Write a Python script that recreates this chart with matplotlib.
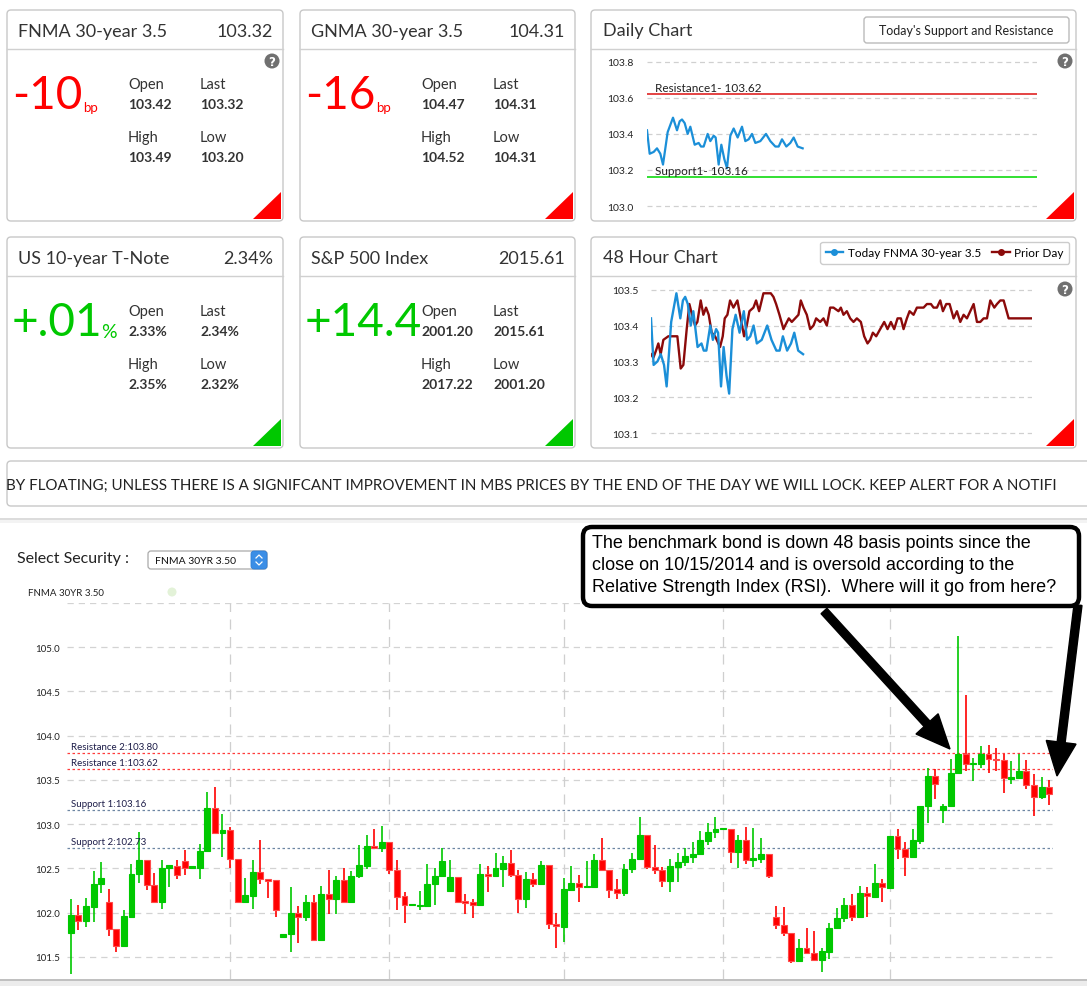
import numpy as np
import matplotlib
matplotlib.use("Agg")
import matplotlib.pyplot as plt
from matplotlib.patches import FancyBboxPatch, Polygon, Circle, Rectangle, FancyArrow
from matplotlib.lines import Line2D

plt.rcParams['font.family'] = ['Lato', 'DejaVu Sans']

W, H = 1087, 987
RED = '#ff0000'
GREEN = '#00c800'
BLUE = '#1b8fd8'
DARKRED = '#8b0a0a'
TXT = '#333333'

# quote tiles
tile_titles = ["FNMA 30-year 3.5", "GNMA 30-year 3.5", "US 10-year T-Note", "S&P 500 Index"]
tile_prices = ["103.32", "104.31", "2.34%", "2015.61"]
tile_change = ["-10", "-16", "+.01", "+14.4"]
tile_units = ["bp", "bp", "%", ""]
tile_open = ["103.42", "104.47", "2.33%", "2001.20"]
tile_last = ["103.32", "104.31", "2.34%", "2015.61"]
tile_high = ["103.49", "104.52", "2.35%", "2017.22"]
tile_low = ["103.20", "104.31", "2.32%", "2001.20"]

# intraday FNMA 30yr 3.5 (today), time steps
today_t = [0, 8, 20, 30, 40, 48, 62, 78, 90, 98,
           105, 113, 122, 130, 143, 155, 162, 170, 182, 190,
           200, 206, 215, 223, 232, 240, 250, 260, 272, 285,
           295, 305, 315, 325, 340, 357, 370, 385, 395, 405,
           418, 430, 440, 452, 467]
today_px = [103.42, 103.29, 103.30, 103.32, 103.29, 103.23, 103.41, 103.49, 103.42, 103.47,
            103.48, 103.46, 103.40, 103.44, 103.34, 103.35, 103.33, 103.33, 103.40, 103.36,
            103.39, 103.38, 103.23, 103.34, 103.26, 103.21, 103.39, 103.43, 103.38, 103.44,
            103.36, 103.37, 103.40, 103.35, 103.36, 103.40, 103.36, 103.33, 103.33, 103.37,
            103.33, 103.35, 103.38, 103.33, 103.32]
DAILY_SPAN = 1170

# prior day, time steps
prior_t = [0, 7, 15, 22, 29, 37, 52, 65, 79, 89,
           97, 107, 115, 123, 132, 139, 149, 157, 165, 173,
           182, 192, 207, 215, 221, 229, 237, 247, 259, 269,
           279, 287, 295, 307, 315, 324, 337, 347, 359, 367,
           375, 385, 397, 402, 413, 422, 432, 442, 449, 457,
           467, 477, 487, 495, 507, 517, 527, 537, 547, 562,
           569, 577, 587, 597, 607, 617, 629, 639, 649, 657,
           665, 675, 687, 699, 709, 719, 729, 739, 749, 757,
           767, 775, 787, 797, 807, 817, 827, 839, 847, 857,
           867, 875, 885, 895, 907, 917, 927, 937, 947, 957,
           967, 977, 987, 997, 1007, 1017, 1029, 1037, 1047, 1057,
           1072, 1082, 1142]
prior_px = [103.32, 103.31, 103.33, 103.35, 103.32, 103.36, 103.37, 103.37, 103.37, 103.28,
            103.29, 103.39, 103.46, 103.43, 103.40, 103.41, 103.47, 103.43, 103.45, 103.43,
            103.38, 103.37, 103.34, 103.37, 103.42, 103.43, 103.47, 103.45, 103.47, 103.42,
            103.37, 103.40, 103.44, 103.45, 103.47, 103.44, 103.49, 103.49, 103.49, 103.48,
            103.46, 103.43, 103.39, 103.40, 103.42, 103.41, 103.42, 103.43, 103.47, 103.45,
            103.43, 103.39, 103.40, 103.42, 103.41, 103.42, 103.40, 103.45, 103.45, 103.44,
            103.45, 103.43, 103.44, 103.42, 103.41, 103.42, 103.41, 103.37, 103.35, 103.36,
            103.38, 103.37, 103.39, 103.41, 103.39, 103.41, 103.39, 103.42, 103.42, 103.39,
            103.42, 103.44, 103.43, 103.45, 103.45, 103.45, 103.46, 103.46, 103.45, 103.45,
            103.47, 103.44, 103.46, 103.46, 103.42, 103.44, 103.41, 103.43, 103.42, 103.44,
            103.46, 103.41, 103.41, 103.42, 103.42, 103.47, 103.45, 103.46, 103.47, 103.47,
            103.42, 103.42, 103.42]
PRIOR_SPAN = 1142

daily_support = 103.16
daily_resist = 103.62

# daily candles FNMA 30YR 3.50
c_open = [101.77, 101.97, 101.90, 102.06, 102.32, 102.12, 101.81, 101.62, 101.95, 102.44,
          102.60, 102.31, 102.12, 102.50, 102.53, 102.58, 102.51, 102.51, 102.70, 103.18,
          102.90, 102.93, 102.61, 102.12, 102.19, 102.46, 102.38, 102.37, 101.72, 101.76,
          102.00, 101.95, 102.12, 101.69, 102.21, 102.15, 102.37, 102.12, 102.41, 102.53,
          102.75, 102.73, 102.80, 102.48, 102.19, 102.09, 102.07, 102.07, 102.32, 102.41,
          102.24, 102.40, 102.13, 102.12, 102.09, 102.44, 102.41, 102.49, 102.56, 102.43,
          102.15, 102.38, 102.32, 102.54, 101.87, 101.84, 102.26, 102.34, 102.29, 102.29,
          102.60, 102.48, 102.27, 102.22, 102.49, 102.61, 102.88, 102.52, 102.48, 102.36,
          102.52, 102.57, 102.63, 102.66, 102.81, 102.91, 102.94, 102.94, 102.68, 102.82,
          102.60, 102.61, 102.66, 101.95, 101.86, 101.77, 101.45, 101.60, 101.54, 101.46,
          101.56, 101.83, 101.94, 102.09, 101.95, 102.22, 102.18, 102.34, 102.28, 102.87,
          102.72, 102.63, 102.81, 103.21, 103.55, 103.16, 103.20, 103.58, 103.79, 103.68,
          103.68, 103.79, 103.74, 103.72, 103.51, 103.52, 103.60, 103.44, 103.31, 103.42]
c_high = [102.15, 102.09, 102.16, 102.47, 102.57, 102.27, 101.81, 102.03, 102.55, 102.91,
          102.60, 102.45, 102.59, 102.54, 102.60, 102.71, 102.52, 102.78, 103.36, 103.42,
          103.12, 102.97, 102.61, 102.39, 102.59, 102.82, 102.38, 102.37, 101.76, 102.29,
          102.07, 102.20, 102.20, 102.30, 102.48, 102.41, 102.50, 102.47, 102.76, 102.88,
          102.95, 102.98, 102.80, 102.60, 102.23, 102.10, 102.24, 102.55, 102.50, 102.73,
          102.59, 102.40, 102.21, 102.15, 102.55, 102.53, 102.67, 102.64, 102.71, 102.48,
          102.46, 102.45, 102.58, 102.54, 102.00, 102.39, 102.53, 102.43, 102.58, 102.66,
          102.84, 102.48, 102.38, 102.55, 102.67, 103.08, 102.88, 102.77, 102.52, 102.61,
          102.67, 102.73, 102.80, 102.92, 103.01, 103.08, 102.95, 102.94, 102.88, 102.97,
          102.96, 102.84, 102.66, 102.08, 102.06, 101.77, 101.70, 101.83, 101.79, 101.60,
          101.88, 102.05, 102.16, 102.21, 102.30, 102.29, 102.55, 102.38, 102.87, 102.95,
          102.80, 102.94, 103.21, 103.63, 103.62, 103.23, 103.74, 105.13, 104.46, 103.75,
          103.88, 103.89, 103.86, 103.79, 103.71, 103.79, 103.72, 103.57, 103.53, 103.50]
c_low = [101.31, 101.80, 101.84, 101.89, 102.22, 101.74, 101.55, 101.62, 101.95, 102.33,
         102.26, 102.12, 102.04, 102.29, 102.38, 102.43, 102.51, 102.38, 102.70, 102.90,
         102.63, 102.51, 102.12, 102.11, 102.04, 102.32, 102.17, 101.95, 101.71, 101.55,
         101.66, 101.90, 101.69, 101.69, 101.98, 101.99, 102.12, 102.12, 102.39, 102.49,
         102.73, 102.69, 102.44, 102.03, 101.88, 102.09, 102.03, 102.07, 102.09, 102.41,
         102.24, 102.11, 101.99, 101.94, 102.07, 102.23, 102.41, 102.29, 102.40, 102.00,
         102.05, 102.29, 102.32, 101.82, 101.60, 101.67, 102.26, 102.12, 102.29, 102.29,
         102.48, 102.17, 102.15, 102.19, 102.45, 102.61, 102.49, 102.44, 102.29, 102.23,
         102.35, 102.53, 102.56, 102.66, 102.76, 102.84, 102.94, 102.56, 102.50, 102.55,
         102.52, 102.56, 102.39, 101.81, 101.74, 101.43, 101.45, 101.54, 101.45, 101.33,
         101.48, 101.83, 101.89, 101.90, 101.95, 101.95, 102.18, 102.12, 102.27, 102.61,
         102.41, 102.63, 102.78, 103.01, 103.29, 103.01, 103.20, 103.58, 103.60, 103.49,
         103.64, 103.58, 103.60, 103.35, 103.45, 103.51, 103.40, 103.09, 103.29, 103.22]
c_close = [101.97, 101.91, 102.07, 102.32, 102.39, 101.81, 101.62, 101.96, 102.44, 102.60,
           102.31, 102.12, 102.50, 102.54, 102.43, 102.51, 102.52, 102.70, 103.18, 102.90,
           102.93, 102.61, 102.12, 102.20, 102.46, 102.38, 102.36, 102.03, 101.76, 102.00,
           101.95, 102.12, 101.69, 102.21, 102.15, 102.37, 102.12, 102.41, 102.54, 102.75,
           102.73, 102.80, 102.48, 102.18, 102.09, 102.10, 102.08, 102.32, 102.41, 102.58,
           102.40, 102.12, 102.11, 102.09, 102.44, 102.41, 102.50, 102.56, 102.43, 102.15,
           102.38, 102.32, 102.54, 101.87, 101.85, 102.27, 102.34, 102.29, 102.30, 102.60,
           102.48, 102.26, 102.22, 102.49, 102.61, 102.88, 102.52, 102.48, 102.36, 102.53,
           102.57, 102.64, 102.66, 102.82, 102.91, 102.94, 102.95, 102.69, 102.82, 102.60,
           102.62, 102.66, 102.41, 101.86, 101.77, 101.45, 101.60, 101.54, 101.46, 101.57,
           101.83, 101.94, 102.09, 101.95, 102.22, 102.19, 102.34, 102.29, 102.87, 102.72,
           102.63, 102.82, 103.21, 103.55, 103.45, 103.20, 103.58, 103.79, 103.68, 103.69,
           103.79, 103.74, 103.72, 103.52, 103.53, 103.60, 103.44, 103.31, 103.42, 103.34]
month_starts = [21, 42, 65, 86, 108]
level_names = ["Resistance 2", "Resistance 1", "Support 1", "Support 2"]
level_values = [103.80, 103.62, 103.16, 102.73]
level_colors = ['#ff3b3b', '#ff3b3b', '#6d86a3', '#6d86a3']

# scrolling banner, as far as it is visible
ticker = ("BY FLOATING; UNLESS THERE IS A SIGNIFCANT IMPROVEMENT IN MBS PRICES BY THE END "
          "OF THE DAY WE WILL LOCK. KEEP ALERT FOR A NOTIFI")
note_lines = ["The benchmark bond is down 48 basis points since the",
              "close on 10/15/2014 and is oversold according to the",
              "Relative Strength Index (RSI).  Where will it go from here?"]

fig = plt.figure(figsize=(W / 100, H / 100), dpi=100)
fig.patch.set_facecolor('white')
bg = fig.add_axes([0, 0, 1, 1], zorder=0)
bg.set_xlim(0, W)
bg.set_ylim(H, 0)
bg.axis('off')
renderer = fig.canvas.get_renderer()


def frac(x0, y0, x1, y1):
    return [x0 / W, 1 - y1 / H, (x1 - x0) / W, (y1 - y0) / H]


def panel(x0, y0, x1, y1, r=4):
    p = FancyBboxPatch((x0, y0), x1 - x0, y1 - y0, boxstyle="round,pad=0,rounding_size=%d" % r,
                       fc='white', ec='#c8c8c8', lw=1)
    bg.add_patch(p)
    return p


def corner(x1, y1, color):
    bg.add_patch(Polygon([(x1 - 2, y1 - 29), (x1 - 2, y1 - 2), (x1 - 30, y1 - 2)],
                         closed=True, fc=color, ec='none'))


def help_icon(x, y):
    bg.add_patch(Circle((x, y), 7.5, fc='#707070', ec='none'))
    bg.text(x, y + 0.5, '?', ha='center', va='center', color='white', fontsize=8.5,
            fontweight='bold', family=['DejaVu Sans'])


# --- quote tiles ---
tile_boxes = [(7, 11, 283, 222), (300, 11, 575, 222), (7, 238, 283, 449), (300, 238, 575, 449)]
for i, (x0, y0, x1, y1) in enumerate(tile_boxes):
    col = RED if tile_change[i].startswith('-') else GREEN
    panel(x0, y0, x1, y1)
    bg.plot([x0, x1], [y0 + 39, y0 + 39], color='#d0d0d0', lw=1)
    bg.text(x0 + 11, y0 + 21, tile_titles[i], fontsize=13, color=TXT, va='center')
    bg.text(x1 - 10, y0 + 21, tile_prices[i], fontsize=13, color=TXT, va='center', ha='right')
    big = bg.text(x0 + 5, y0 + 85, tile_change[i], fontsize=33, color=col, va='center')
    bb = big.get_window_extent(renderer=renderer)
    if tile_units[i] == 'bp':
        bg.text(bb.x1 + 1, y0 + 97, 'bp', fontsize=9.5, color=col, va='center')
    elif tile_units[i] == '%':
        bg.text(bb.x1 - 2, y0 + 94, '%', fontsize=14, color=col, va='center')
    for (lab, val, dx, dy) in [("Open", tile_open[i], 121, 74), ("Last", tile_last[i], 193, 74),
                               ("High", tile_high[i], 121, 127), ("Low", tile_low[i], 193, 127)]:
        bg.text(x0 + dx, y0 + dy, lab, fontsize=10.5, color=TXT, va='center')
        bg.text(x0 + dx, y0 + dy + 20, val, fontsize=10, color=TXT, va='center', fontweight='bold')
    corner(x1, y1, col)
help_icon(272, 62)

# --- daily chart panel ---
panel(591, 11, 1076, 222)
bg.plot([591, 1076], [50, 50], color='#d0d0d0', lw=1)
bg.text(603, 31, "Daily Chart", fontsize=13, color=TXT, va='center')
bg.add_patch(FancyBboxPatch((864, 18), 205, 26, boxstyle="round,pad=0,rounding_size=3",
                            fc='white', ec='#bbbbbb', lw=1))
bg.text(966.5, 31, "Today's Support and Resistance", fontsize=9, color='#222222',
        ha='center', va='center')
help_icon(1065, 62)
corner(1076, 222, RED)

axd = fig.add_axes(frac(647, 55, 1037, 215), zorder=1)
axd.set_facecolor('none')
axd.plot(today_t, today_px, color=BLUE, lw=1.6)
axd.axhline(daily_resist, color='#dd1111', lw=1.1)
axd.axhline(daily_support, color='#22dd22', lw=1.3)
axd.annotate("Resistance1- %.2f" % daily_resist, (0.02, daily_resist), xycoords=('axes fraction', 'data'),
             xytext=(0, 1), textcoords='offset points', fontsize=8.5, color='#222222', va='bottom')
axd.annotate("Support1- %.2f" % daily_support, (0.02, daily_support), xycoords=('axes fraction', 'data'),
             xytext=(0, 1), textcoords='offset points', fontsize=8.5, color='#222222', va='bottom')
axd.set_xlim(0, DAILY_SPAN)
axd.set_ylim(102.956, 103.843)
axd.set_yticks([103.0, 103.2, 103.4, 103.6, 103.8])
axd.set_yticklabels(["%.1f" % v for v in [103.0, 103.2, 103.4, 103.6, 103.8]])
axd.set_xticks([])
axd.tick_params(axis='y', length=0, labelsize=7.5, labelcolor='#222222', pad=10)
axd.grid(axis='y', color='#d0d0d0', lw=0.9, dashes=(4, 3))
axd.set_axisbelow(True)
for s in axd.spines.values():
    s.set_visible(False)

# --- 48 hour chart panel ---
panel(591, 238, 1076, 449)
bg.plot([591, 1076], [277, 277], color='#d0d0d0', lw=1)
bg.text(603, 258, "48 Hour Chart", fontsize=13, color=TXT, va='center')
help_icon(1065, 290)
corner(1076, 449, RED)

ax48 = fig.add_axes(frac(651, 283, 1032, 442), zorder=1)
ax48.set_facecolor('none')
ax48.plot(prior_t, prior_px, color=DARKRED, lw=1.7)
ax48.plot(np.array(today_t) * PRIOR_SPAN / DAILY_SPAN, today_px, color=BLUE, lw=1.7)
ax48.set_xlim(0, PRIOR_SPAN)
ax48.set_ylim(103.0777, 103.5215)
ax48.set_yticks([103.1, 103.2, 103.3, 103.4, 103.5])
ax48.set_yticklabels(["%.1f" % v for v in [103.1, 103.2, 103.3, 103.4, 103.5]])
ax48.set_xticks([])
ax48.tick_params(axis='y', length=0, labelsize=7.5, labelcolor='#222222', pad=9)
ax48.grid(axis='y', color='#d0d0d0', lw=0.9, dashes=(4, 3))
ax48.set_axisbelow(True)
for s in ax48.spines.values():
    s.set_visible(False)
handles = [Line2D([], [], color=BLUE, lw=1.7, marker='o', ms=4),
           Line2D([], [], color=DARKRED, lw=1.7, marker='o', ms=4)]
ax48.legend(handles, ["Today FNMA 30-year 3.5", "Prior Day"], loc='upper right',
            bbox_to_anchor=(1069 / W, 1 - 243 / H), bbox_transform=fig.transFigure, ncol=2,
            fontsize=8.5, frameon=True, fancybox=True, edgecolor='#c0c0c0', handlelength=1.5,
            handletextpad=0.4, columnspacing=0.9, borderpad=0.45, borderaxespad=0)

# --- ticker ---
tk = panel(7, 462, 1100, 507)
bg.text(6, 485.5, ticker, fontsize=10.9, color='#222222', va='center')

# separator
bg.plot([0, W], [520, 520], color='#d6d6d6', lw=1.2)
bg.add_patch(Rectangle((0, 521), W, 3, fc='#f3f3f3', ec='none'))

# --- candle chart header ---
bg.text(17, 559, "Select Security :", fontsize=11.5, color='#222222', va='center')
bg.add_patch(FancyBboxPatch((148, 552), 119, 18, boxstyle="round,pad=0,rounding_size=3",
                            fc='white', ec='#aaaaaa', lw=0.9))
bg.add_patch(FancyBboxPatch((251, 552), 16, 18, boxstyle="round,pad=0,rounding_size=3",
                            fc='#3b8ee6', ec='#2f7fd6', lw=0.6))
bg.plot([256, 259, 262], [559, 556, 559], color='white', lw=0.9)
bg.plot([256, 259, 262], [563, 566, 563], color='white', lw=0.9)
bg.text(155, 561, "FNMA 30YR 3.50", fontsize=7.5, color='#111111', va='center')
bg.text(28, 593, "FNMA 30YR 3.50", fontsize=7, color='#222222', va='center')
bg.add_patch(Circle((172, 593), 4.5, fc='#e3f2d8', ec='none'))
bg.add_patch(Rectangle((0, 980), W, 7, fc='#ececec', ec='none'))
bg.plot([0, W], [980.5, 980.5], color='#b8b8b8', lw=1.2)

# --- candlestick chart ---
axc = fig.add_axes(frac(67, 604, 1053, 980), zorder=1)
axc.set_facecolor('none')
idx = np.arange(len(c_open))
o = np.array(c_open)
c = np.array(c_close)
hi = np.array(c_high)
lo = np.array(c_low)
up = c >= o
cols = np.where(up, GREEN, RED)
edge = np.where(up, GREEN, '#ff4a4a')
axc.vlines(idx, lo, hi, colors=cols, lw=1.2, zorder=3)
body_h = np.maximum(np.abs(c - o), 0.012)
axc.bar(idx, body_h, bottom=np.minimum(o, c), width=0.78, color=cols, edgecolor=edge,
        lw=0.8, zorder=4)
for name, val, col in zip(level_names, level_values, level_colors):
    axc.axhline(val, color=col, lw=0.9, dashes=(2, 2), zorder=2)
    axc.annotate("%s:%.2f" % (name, val), (0.004, val), xycoords=('axes fraction', 'data'),
                 xytext=(0, 1.5), textcoords='offset points', fontsize=7, color='#1c1c48',
                 va='bottom', zorder=5)
for m in month_starts:
    axc.axvline(m, color='#cfcfcf', lw=0.9, dashes=(8, 6), zorder=1)
yt = np.arange(101.5, 105.01, 0.5)
axc.set_yticks(yt)
axc.set_yticklabels(["%.1f" % v for v in yt])
axc.axhline(105.5, color='#d3d3d3', lw=0.9, dashes=(5, 4), zorder=1)
axc.grid(axis='y', color='#d3d3d3', lw=0.9, dashes=(5, 4), zorder=1)
axc.set_axisbelow(True)
axc.set_xticks([])
axc.set_xlim(-0.5, len(c_open) - 0.5)
axc.set_ylim(101.25, 105.5)
axc.tick_params(axis='y', length=0, labelsize=7, labelcolor='#222222', pad=5)
for s in axc.spines.values():
    s.set_visible(False)

# --- callout with arrows ---
ov = fig.add_axes([0, 0, 1, 1], zorder=5)
ov.set_xlim(0, W)
ov.set_ylim(H, 0)
ov.axis('off')
ov.add_patch(FancyArrow(824, 612, 950 - 824, 750 - 612, width=8, head_width=30, head_length=34,
                        length_includes_head=True, fc='black', ec='black'))
ov.add_patch(FancyArrow(1078, 606, 1057 - 1078, 777 - 606, width=8, head_width=30, head_length=34,
                        length_includes_head=True, fc='black', ec='black'))
ov.add_patch(FancyBboxPatch((583, 528), 496, 79, boxstyle="round,pad=0,rounding_size=9",
                            fc='white', ec='black', lw=3.2))
for k, line in enumerate(note_lines):
    ov.text(592, 543 + 22 * k, line, fontsize=13, family=['Liberation Sans', 'DejaVu Sans'],
            color='black', va='center')

fig.savefig("out.png", dpi=100, facecolor='white')
